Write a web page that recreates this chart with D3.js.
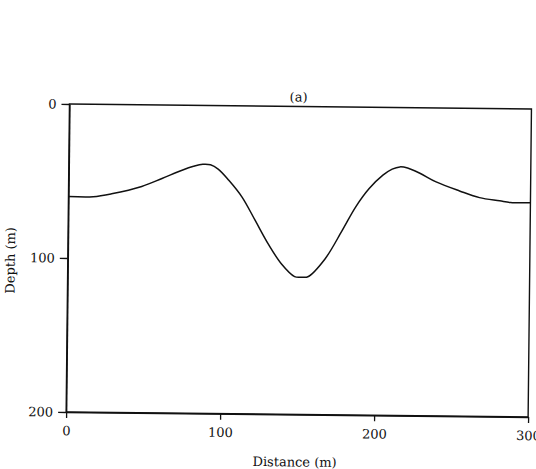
<!DOCTYPE html>
<html>
<head>
<meta charset="utf-8">
<script src="https://cdn.jsdelivr.net/npm/d3@7"></script>
<style>
  html, body { margin: 0; padding: 0; background: #fff; }
  svg { display: block; }
  text { font-family: "DejaVu Serif", "Liberation Serif", serif; fill: #111; }
</style>
</head>
<body>
<svg id="chart" width="536" height="469"></svg>
<script>
// ---- data ----
const distance = [0, 16, 28, 47.5, 60.6, 73.6, 81, 87, 92, 97, 104, 112.7, 121.4, 130, 138.8, 147.4, 152, 156, 167, 177.9, 186.5, 195.2, 204, 210, 215, 220, 228, 238.6, 253.9, 266.9, 280, 287, 300];
const depth    = [60, 60, 58, 53, 47.7, 42.2, 39.6, 38.2, 38.5, 41.2, 48.4, 59.2, 74.3, 89.4, 102.4, 110.5, 110.8, 110.5, 98.8, 80.3, 64.9, 52.8, 44, 40, 38.5, 39.2, 42.5, 48, 53.7, 57.9, 59.8, 60.8, 60.8];
const xTicks = [0, 100, 200, 300];
const yTicks = [0, 100, 200];
const title = "(a)";
const xLabel = "Distance (m)";
const yLabel = "Depth (m)";

// ---- layout ----
const W = 536, H = 469;
const margin = { left: 67.8, top: 106.5 };
const width = 462, height = 308;
const cx = margin.left + width / 2, cy = margin.top + height / 2;
const FONT = "'DejaVu Serif', 'Liberation Serif', serif";

const svg = d3.select("#chart");
// slight scan rotation of the original figure
const root = svg.append("g").attr("transform", `rotate(0.62, ${cx}, ${cy})`);
const g = root.append("g").attr("transform", `translate(${margin.left},${margin.top})`);

const x = d3.scaleLinear().domain([0, 300]).range([0, width]);
const y = d3.scaleLinear().domain([0, 200]).range([0, height]);

// frame
g.append("rect")
  .attr("x", 0).attr("y", 0).attr("width", width).attr("height", height)
  .attr("fill", "none").attr("stroke", "#111").attr("stroke-width", 1.4);

// axes
const xAxis = g.append("g").attr("transform", `translate(0,${height})`)
  .call(d3.axisBottom(x).tickValues(xTicks).tickSize(6).tickSizeOuter(0).tickPadding(8).tickFormat(d3.format("d")));
const yAxis = g.append("g")
  .call(d3.axisLeft(y).tickValues(yTicks).tickSize(8).tickSizeOuter(0).tickPadding(5).tickFormat(d3.format("d")));
[xAxis, yAxis].forEach(a => {
  a.select(".domain").attr("stroke", "#111").attr("stroke-width", 1.4);
  a.selectAll(".tick line").attr("stroke", "#111").attr("stroke-width", 1.3);
  a.selectAll(".tick text").attr("font-size", 13).attr("fill", "#111").attr("font-family", FONT);
});

// curve
const pts = distance.map((d, i) => [d, depth[i]]);
const line = d3.line().x(d => x(d[0])).y(d => y(d[1])).curve(d3.curveCatmullRom.alpha(0.5));
g.append("path").datum(pts)
  .attr("d", line).attr("fill", "none").attr("stroke", "#111").attr("stroke-width", 1.5);

// texts
g.append("text").attr("x", width / 2 - 2).attr("y", -5).attr("text-anchor", "middle")
  .attr("font-size", 13).text(title);
g.append("text").attr("x", width / 2 - 2).attr("y", height + 52).attr("text-anchor", "middle")
  .attr("font-size", 13).text(xLabel);
g.append("text").attr("transform", `translate(${-53},${height / 2 + 3}) rotate(-90)`)
  .attr("text-anchor", "middle").attr("font-size", 13).text(yLabel);
</script>
</body>
</html>
